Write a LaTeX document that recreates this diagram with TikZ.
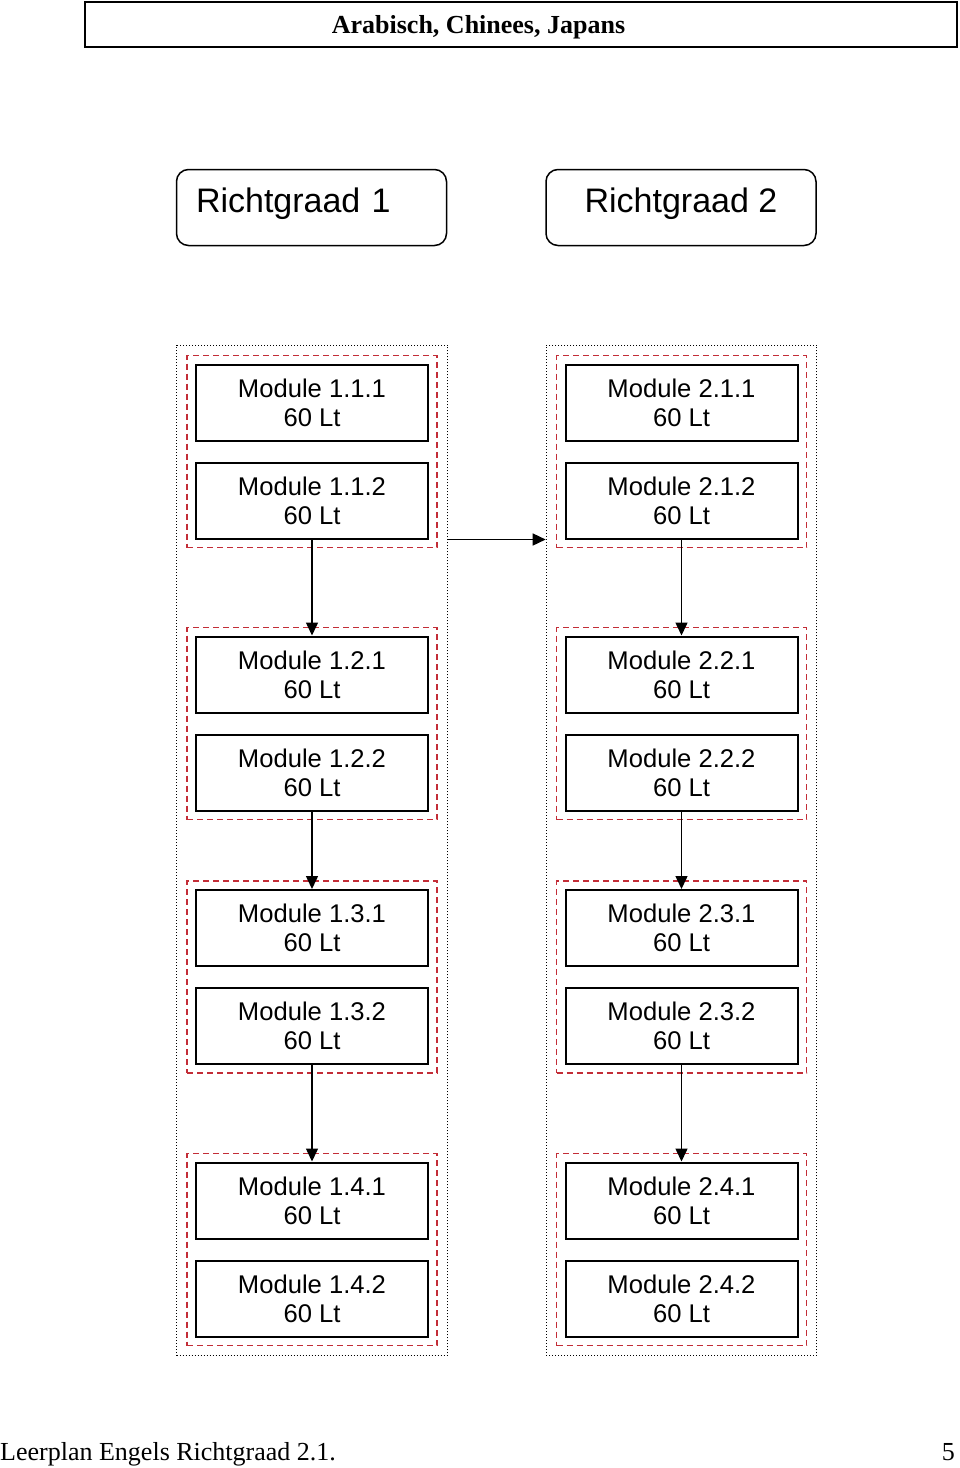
\documentclass[tikz,border=0pt]{standalone}
\usepackage{fontspec}
\setmainfont{Liberation Serif}
\newfontfamily\arialfont{Liberation Sans}
\usetikzlibrary{positioning}
\usetikzlibrary{fit}
\usetikzlibrary{arrows.meta}
\definecolor{groupred}{RGB}{195,45,55}

\begin{document}
\begin{tikzpicture}[x=1pt,y=-1pt,
		module/.style={draw,
			line width=2pt,
			minimum width=232pt,
			minimum height=76pt,
			inner sep=0pt,
			align=center,
			font=\arialfont\fontsize{25.6}{29}\selectfont},
		group/.style={draw=groupred,
			dash pattern=on 6pt off 4pt,
			line width=1.6pt,
			inner sep=8pt},
		column/.style={draw,
			dash pattern=on 1pt off 2pt,
			line width=1pt,
			inner sep=9.5pt},
		richt/.style={draw,
			rounded corners=12pt,
			line width=1.5pt,
			minimum width=270pt,
			minimum height=76pt,
			text height=24pt,
			text depth=15pt,
			font=\arialfont\fontsize{34}{40}\selectfont},
		flow/.style={-{Triangle[length=13pt,width=12pt]}, line width=1.5pt}
	]
			\useasboundingbox (0,0) rectangle (960,1468);
			
			% Title
			\node [draw,
				line width=2pt,
				minimum width=872pt,
				minimum height=45pt
				] (titlebox) at (521,24) {};
			\node [font=\bfseries\fontsize{26}{30}\selectfont,
				xshift=-42.5pt,
				yshift=-3.5pt
				] (title) at (titlebox.center) {Arabisch, Chinees, Japans};
			
			% Richtgraden
			\node [richt, text width=231pt, align=left] (rg1) at (311.5,207.5) {Richtgraad 1};
			\node [richt] (rg2) at (681,207.5) {Richtgraad 2};
			
			% Modules richtgraad 1
			\node [module] (m111) at (312,402.5) {Module 1.1.1\\60 Lt};
			\node [module, below=20pt of m111] (m112) {Module 1.1.2\\60 Lt};
			\node [module, below=96pt of m112] (m121) {Module 1.2.1\\60 Lt};
			\node [module, below=20pt of m121] (m122) {Module 1.2.2\\60 Lt};
			\node [module, below=77.5pt of m122] (m131) {Module 1.3.1\\60 Lt};
			\node [module, below=20pt of m131] (m132) {Module 1.3.2\\60 Lt};
			\node [module, below=96.5pt of m132] (m141) {Module 1.4.1\\60 Lt};
			\node [module, below=20pt of m141] (m142) {Module 1.4.2\\60 Lt};
			
			% Modules richtgraad 2
			\node [module] (m211) at (681.5,402.5) {Module 2.1.1\\60 Lt};
			\node [module, below=20pt of m211] (m212) {Module 2.1.2\\60 Lt};
			\node [module, below=96pt of m212] (m221) {Module 2.2.1\\60 Lt};
			\node [module, below=20pt of m221] (m222) {Module 2.2.2\\60 Lt};
			\node [module, below=77.5pt of m222] (m231) {Module 2.3.1\\60 Lt};
			\node [module, below=20pt of m231] (m232) {Module 2.3.2\\60 Lt};
			\node [module, below=96.5pt of m232] (m241) {Module 2.4.1\\60 Lt};
			\node [module, below=20pt of m241] (m242) {Module 2.4.2\\60 Lt};
			
			% Groups
			\node [group, fit=(m111) (m112)] (g11) {};
			\node [group, fit=(m121) (m122)] (g12) {};
			\node [group, fit=(m131) (m132)] (g13) {};
			\node [group, fit=(m141) (m142)] (g14) {};
			\node [group, fit=(m211) (m212)] (g21) {};
			\node [group, fit=(m221) (m222)] (g22) {};
			\node [group, fit=(m231) (m232)] (g23) {};
			\node [group, fit=(m241) (m242)] (g24) {};
			
			% Columns
			\node [column, fit=(g11) (g14)] (col1) {};
			\node [column, fit=(g21) (g24)] (col2) {};
			
			% Arrows
			\draw[flow] (m112.south) -- (m121.north);
			\draw[flow] (m122.south) -- (m131.north);
			\draw[flow] (m132.south) -- (m141.north);
			\draw[flow] (m212.south) -- (m221.north);
			\draw[flow] (m222.south) -- (m231.north);
			\draw[flow] (m232.south) -- (m241.north);
			\draw[flow] (col1.east |- m112.south) -- (col2.west |- m112.south);
			
			% Footer
			\node [anchor=base west, inner sep=0pt,
				font=\fontsize{26}{30}\selectfont
				] (footer) at (0,1460) {Leerplan Engels Richtgraad 2.1.};
			\node [anchor=base east, inner sep=0pt,
				font=\fontsize{26}{30}\selectfont
				] (page) at (955,1460) {5};
		
		\end{tikzpicture}
\end{document}
